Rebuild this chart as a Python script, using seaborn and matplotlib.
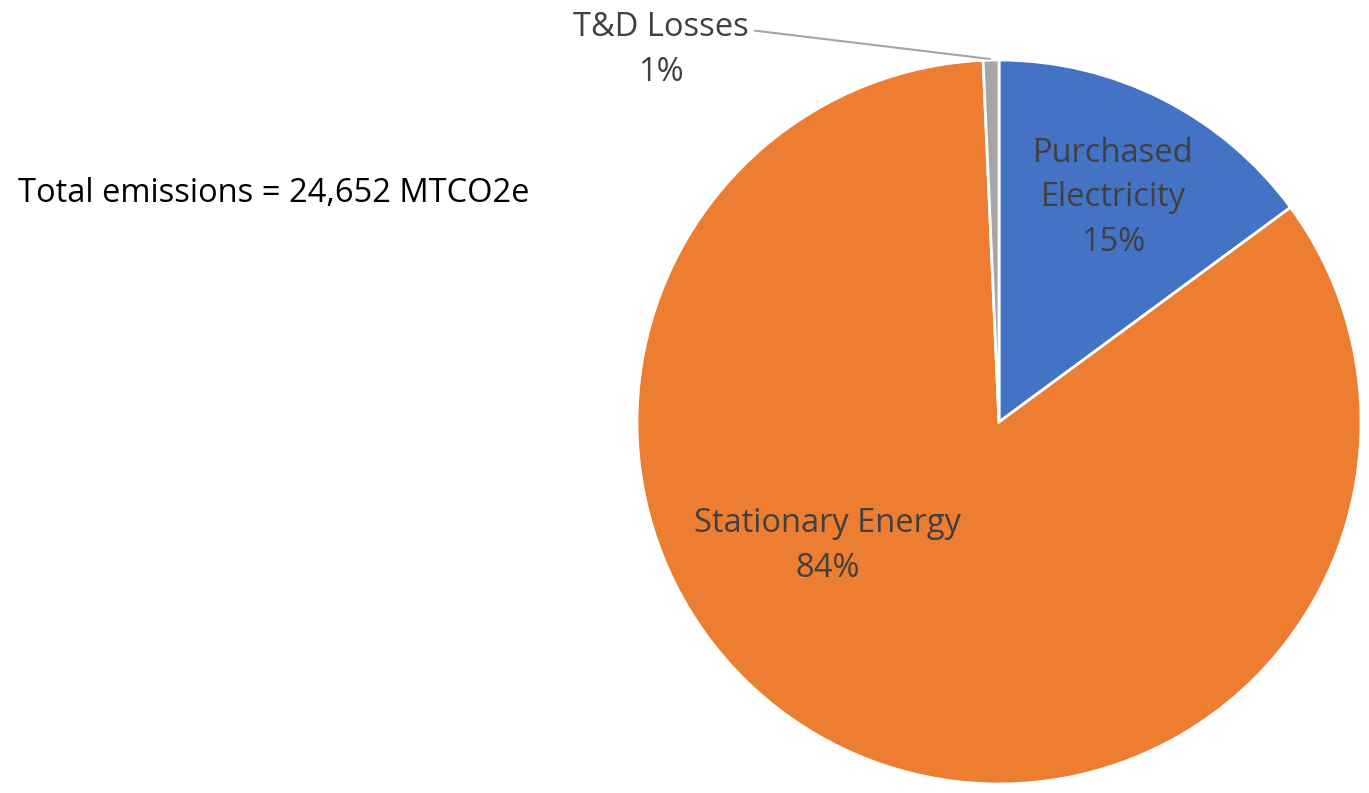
import matplotlib
matplotlib.use("Agg")
import matplotlib.pyplot as plt
import seaborn as sns

# ── Data ──
categories = ["Purchased Electricity", "Stationary Energy", "T&D Losses"]
shares = [14.9, 84.4, 0.7]
pct_labels = ["15%", "84%", "1%"]
colors = ["#4472C4", "#ED7D31", "#A5A5A5"]
total_text = "Total emissions = 24,652 MTCO2e"

sns.set_theme(style="white")
plt.rcParams["font.family"] = ["Open Sans", "DejaVu Sans"]

W, H = 1369, 793
fig = plt.figure(figsize=(W / 100, H / 100), dpi=100)

# pie centre / radius in pixels
cx, cy, r = 999, 422, 362
ax = fig.add_axes([(cx - r) / W, (H - cy - r) / H, 2 * r / W, 2 * r / H])
ax.pie(shares, colors=colors, startangle=90, counterclock=False,
       wedgeprops=dict(edgecolor="white", linewidth=2))
ax.set_xlim(-1, 1)
ax.set_ylim(-1, 1)
ax.set_aspect("equal")
ax.axis("off")


def px(x, y):
    return ((x - cx) / r, (cy - y) / r)


lab_col = "#404040"
fs = 23.5
ls = 1.45
ax.text(*px(1113, 198), "Purchased\nElectricity\n" + pct_labels[0], ha="center", va="center",
        fontsize=fs, color=lab_col, linespacing=ls)
ax.text(*px(828, 546), "Stationary Energy\n" + pct_labels[1], ha="center", va="center",
        fontsize=fs, color=lab_col, linespacing=ls)
ax.annotate("T&D Losses\n" + pct_labels[2], xy=px(990, 59), xytext=px(661, 50),
            ha="center", va="center", fontsize=fs, color=lab_col, linespacing=ls,
            annotation_clip=False,
            arrowprops=dict(arrowstyle="-", color="#A5A5A5", lw=1.5,
                            shrinkA=2, shrinkB=0,
                            relpos=(1.0, 0.76)))

fig.text(18 / W, 1 - 193 / H, total_text, ha="left", va="center", fontsize=fs, color="black")

plt.savefig("out.png", dpi=100)
plt.close()
